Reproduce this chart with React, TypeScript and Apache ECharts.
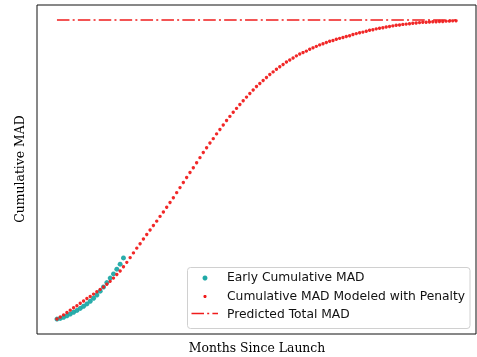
import React, { useEffect, useRef } from "react";
import * as echarts from "echarts";

const months: number[] = Array.from({ length: 121 }, (_, i) => i);
const modeledMAD: number[] = [
  0, 0.7, 1.4, 2.2, 3.0, 3.8, 4.5, 5.3, 6.1, 6.9,
  7.6, 8.4, 9.2, 10.0, 10.8, 11.7, 12.7, 13.8, 15.0, 16.2,
  17.6, 19.1, 20.7, 22.3, 23.9, 25.4, 27.0, 28.5, 30.0, 31.5,
  33.0, 34.6, 36.1, 37.7, 39.3, 40.9, 42.6, 44.3, 46.0, 47.7,
  49.4, 51.0, 52.7, 54.4, 56.1, 57.7, 59.3, 60.8, 62.4, 63.9,
  65.4, 66.9, 68.3, 69.7, 71.0, 72.3, 73.6, 74.8, 76.0, 77.2,
  78.4, 79.4, 80.4, 81.4, 82.4, 83.3, 84.2, 85.0, 85.8, 86.6,
  87.3, 88.0, 88.7, 89.3, 89.8, 90.3, 90.9, 91.4, 91.9, 92.4,
  92.8, 93.2, 93.6, 93.9, 94.3, 94.6, 94.9, 95.2, 95.5, 95.9,
  96.2, 96.5, 96.7, 97.0, 97.3, 97.5, 97.8, 98.0, 98.2, 98.4,
  98.6, 98.8, 99.0, 99.1, 99.3, 99.4, 99.5, 99.7, 99.8, 99.9,
  100.0, 100.0, 100.1, 100.2, 100.2, 100.3, 100.3, 100.4, 100.4, 100.5,
  100.5,
];
const earlyMonths: number[] = [0, 1, 2, 3, 4, 5, 6, 7, 8, 9, 10, 11, 12, 13, 14, 15, 16, 17, 18, 19, 20];
const earlyMAD: number[] = [
  0, 0.2, 0.6, 1.1, 1.7, 2.3, 2.9, 3.6, 4.3, 5.1,
  6.0, 7.0, 8.1, 9.4, 10.8, 12.3, 13.8, 15.2, 16.8, 18.5, 20.6,
];
const predictedTotal = 100.8;
const legendLabels: string[] = [
  "Early Cumulative MAD",
  "Cumulative MAD Modeled with Penalty",
  "Predicted Total MAD",
];

const RED = "#f01c1c";
const TEAL = "#1fa9a6";

export default function App() {
  const ref = useRef<HTMLDivElement>(null);
  useEffect(() => {
    if (!ref.current) return;
    const chart = echarts.init(ref.current, undefined, { renderer: "svg" });
    const xMin = Math.min(...months);
    const xMax = Math.max(...months);
    const xPad = (xMax - xMin) * 0.05;
    const yMin = Math.min(...modeledMAD, ...earlyMAD);
    const yMax = predictedTotal;
    const yPad = (yMax - yMin) * 0.05;
    const legendX = 187.5;
    const legendY = 267.5;
    const rowY = [277, 295.5, 313.5];
    chart.setOption({
      animation: false,
      grid: {
        left: 37,
        right: 1,
        top: 5,
        bottom: 23,
        show: true,
        borderColor: "#111",
        borderWidth: 1,
        backgroundColor: "#fff",
      },
      xAxis: {
        type: "value",
        min: xMin - xPad,
        max: xMax + xPad,
        axisLabel: { show: false },
        axisTick: { show: false },
        axisLine: { show: false },
        splitLine: { show: false },
      },
      yAxis: {
        type: "value",
        min: yMin - yPad,
        max: yMax + yPad,
        axisLabel: { show: false },
        axisTick: { show: false },
        axisLine: { show: false },
        splitLine: { show: false },
      },
      series: [
        {
          name: legendLabels[0],
          type: "scatter",
          data: earlyMonths.map((m, i) => [m, earlyMAD[i]]),
          symbolSize: 5,
          itemStyle: { color: TEAL, opacity: 0.95 },
          z: 2,
        },
        {
          name: legendLabels[1],
          type: "scatter",
          data: months.map((m, i) => [m, modeledMAD[i]]),
          symbolSize: 3.4,
          itemStyle: { color: RED, opacity: 0.95 },
          z: 3,
        },
        {
          name: legendLabels[2],
          type: "line",
          data: [
            [xMin, predictedTotal],
            [xMax, predictedTotal],
          ],
          symbol: "none",
          lineStyle: { color: RED, width: 1.5, type: [12.5, 3.2, 2, 3.2] },
          z: 4,
        },
      ],
      graphic: [
        {
          type: "text",
          x: 19,
          y: 169,
          rotation: Math.PI / 2,
          style: {
            text: "Cumulative MAD",
            font: "12.4px 'DejaVu Serif'",
            fill: "#000",
            align: "center",
            verticalAlign: "middle",
          },
        },
        {
          type: "text",
          x: 257,
          y: 347,
          style: {
            text: "Months Since Launch",
            font: "12.4px 'DejaVu Serif'",
            fill: "#000",
            align: "center",
            verticalAlign: "middle",
          },
        },
        {
          type: "rect",
          shape: { x: legendX, y: legendY, width: 282.5, height: 61, r: 3 },
          style: { fill: "rgba(255,255,255,0.85)", stroke: "#d0d0d0", lineWidth: 1 },
          z: 10,
        },
        {
          type: "circle",
          shape: { cx: 205, cy: rowY[0] + 1, r: 2.5 },
          style: { fill: TEAL },
          z: 11,
        },
        {
          type: "circle",
          shape: { cx: 205, cy: rowY[1] + 1, r: 1.6 },
          style: { fill: RED },
          z: 11,
        },
        {
          type: "line",
          shape: { x1: 191.5, y1: rowY[2], x2: 218, y2: rowY[2] },
          style: { stroke: RED, lineWidth: 1.5, lineDash: [12.5, 3.2, 2, 3.2] },
          z: 11,
        },
        ...legendLabels.map((t, i) => ({
          type: "text",
          x: 227,
          y: rowY[i],
          style: {
            text: t,
            font: "12.3px 'DejaVu Sans'",
            fill: "#111",
            align: "left",
            verticalAlign: "middle",
          },
          z: 11,
        })),
      ],
    });
    return () => chart.dispose();
  }, []);
  return (
    <div
      ref={ref}
      style={{ position: "fixed", left: 0, top: 0, width: 477, height: 357 }}
    />
  );
}
